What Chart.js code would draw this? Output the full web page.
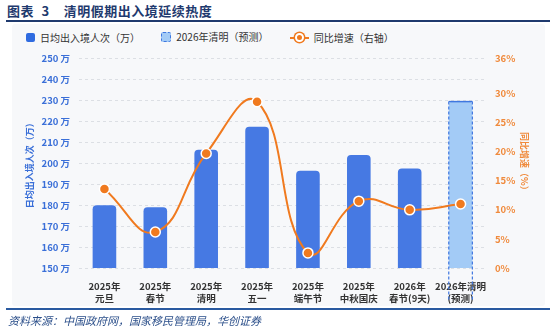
<!DOCTYPE html>
<html>
<head>
<meta charset="utf-8">
<script src="https://cdn.jsdelivr.net/npm/chart.js@4"></script>
<style>
  html, body { margin: 0; padding: 0; background: #fff; }
  body { width: 550px; height: 336px; position: relative; overflow: hidden; font-family: "Noto Sans CJK SC", "Noto Sans", sans-serif; }
  #title { position: absolute; left: 7px; top: 1px; font-size: 13px; font-weight: bold; color: #1f3a6e; letter-spacing: 0.5px; white-space: nowrap; }
  #title .num { margin-left: 4px; margin-right: 14px; }
  #rule { position: absolute; left: 6px; right: 0; top: 20px; height: 1.5px; background: #1f3a6e; }
  #panel { position: absolute; left: 12px; right: 5px; top: 24px; height: 282px; background: #f7f8fa; border-radius: 3px; }
  #legend { position: absolute; left: 26px; top: 29px; font-size: 10px; color: #333; white-space: nowrap; }
  #legend span.item { display: inline-flex; align-items: center; margin-right: 19px; }
  .sq { width: 9px; height: 9px; border-radius: 2px; margin-right: 5px; display: inline-block; }
  .sq1 { background: #2f6be0; }
  .sq2 { background: #a3cbf6; border: 1px dashed #3f77e0; width: 8px; height: 8px; }
  .ln { position: relative; width: 19px; height: 9px; margin-right: 5px; display: inline-block; }
  .ln:before { content: ""; position: absolute; left: 0; right: 0; top: 4px; height: 2px; background: #f07a1f; }
  .ln:after { content: ""; position: absolute; left: 5px; top: 0; width: 5px; height: 5px; border-radius: 50%; background: #f07a1f; border: 2px solid #fff; box-shadow: 0 0 0 1.5px #f07a1f; }
  #wrap { position: absolute; left: 0; top: 44px; width: 550px; height: 266px; }
  #bottomRule { position: absolute; left: 6px; right: 0; top: 308px; height: 2px; background: #2a5aa0; }
  #source { position: absolute; left: 8px; top: 312px; font-size: 11px; font-style: italic; color: #2b4f8a; white-space: nowrap; }
</style>
</head>
<body>
<div id="title">图表<span class="num"> 3</span>清明假期出入境延续热度</div>
<div id="rule"></div>
<div id="panel"></div>
<div id="legend">
  <span class="item"><i class="sq sq1"></i>日均出入境人次（万）</span>
  <span class="item"><i class="sq sq2"></i>2026年清明（预测）</span>
  <span class="item"><i class="ln"></i>同比增速（右轴）</span>
</div>
<div id="wrap"><canvas id="chart"></canvas></div>
<div id="bottomRule"></div>
<div id="source">资料来源：中国政府网，国家移民管理局，华创证券</div>
<script>
const categories = [
  ['2025年', '元旦'], ['2025年', '春节'], ['2025年', '清明'], ['2025年', '五一'],
  ['2025年', '端午节'], ['2025年', '中秋国庆'], ['2026年', '春节(9天)'], ['2026年清明', '(预测)']
];
const dailyTravellers = [180, 179, 206.5, 217.5, 196.5, 204, 197.5, 229.5];
const growthRate = [13.6, 6.2, 19.7, 28.6, 2.6, 11.5, 10.0, 11.0];
const leftTicks = [150, 160, 170, 180, 190, 200, 210, 220, 230, 240, 250];
const rightTicks = [0, 5, 10, 15, 20, 25, 30, 36];

const blue = '#4679e3';
const lightBlue = '#a3cbf6';
const orange = '#f07a1f';
const forecastIndex = dailyTravellers.length - 1;

// dashed outline for the forecast bar, running down through its label
const forecastOutline = {
  id: 'forecastOutline',
  afterDatasetsDraw(chart) {
    const bar = chart.getDatasetMeta(1).data[forecastIndex];
    if (!bar) return;
    const ctx = chart.ctx;
    const half = bar.width / 2;
    const x1 = bar.x - half, x2 = bar.x + half;
    ctx.save();
    ctx.strokeStyle = '#3f77e0';
    ctx.lineWidth = 1.5;
    ctx.beginPath();
    ctx.moveTo(x1, bar.y);
    ctx.lineTo(x2, bar.y);
    ctx.stroke();
    ctx.lineWidth = 1.2;
    ctx.setLineDash([3, 2]);
    ctx.beginPath();
    ctx.moveTo(x1, bar.y);
    ctx.lineTo(x1, chart.chartArea.bottom + 33);
    ctx.moveTo(x2, bar.y);
    ctx.lineTo(x2, chart.chartArea.bottom + 33);
    ctx.stroke();
    ctx.restore();
  }
};

new Chart(document.getElementById('chart'), {
  data: {
    labels: categories,
    datasets: [
      {
        type: 'line',
        label: '同比增速（右轴）',
        data: growthRate,
        yAxisID: 'y1',
        borderColor: orange,
        borderWidth: 2,
        tension: 0.45,
        pointRadius: 5,
        pointBackgroundColor: orange,
        pointBorderColor: '#fff',
        pointBorderWidth: 1.5,
        order: 0
      },
      {
        type: 'bar',
        label: '日均出入境人次（万）',
        data: dailyTravellers,
        yAxisID: 'y',
        backgroundColor: dailyTravellers.map((v, i) => i === forecastIndex ? lightBlue : blue),
        borderRadius: { topLeft: 4, topRight: 4 },
        borderSkipped: 'bottom',
        categoryPercentage: 0.8,
        barPercentage: 0.58,
        order: 1
      }
    ]
  },
  options: {
    responsive: true,
    maintainAspectRatio: false,
    animation: false,
    layout: { padding: { left: 20, right: 16, top: 8, bottom: 0 } },
    plugins: { legend: { display: false }, tooltip: { enabled: false } },
    scales: {
      x: {
        grid: { display: false },
        border: { display: false },
        ticks: {
          color: '#333',
          font: { family: 'Noto Sans CJK SC', size: 9.5, weight: 'bold' },
          padding: 5,
          maxRotation: 0,
          autoSkip: false
        },
        afterFit(scale) { scale.height = 42; }
      },
      y: {
        position: 'left',
        min: 150,
        max: 250,
        afterBuildTicks(scale) { scale.ticks = leftTicks.map(v => ({ value: v })); },
        grid: { color: '#dcdfe4', drawTicks: false, lineWidth: 1 },
        border: { display: false, dash: [3, 3] },
        ticks: {
          color: '#3a6fd8',
          font: { family: 'Noto Sans CJK SC', size: 9.5, weight: 'bold' },
          padding: 9,
          callback: v => v + ' 万'
        },
        title: {
          display: true,
          text: '日均出入境人次（万）',
          color: '#3a6fd8',
          font: { family: 'Noto Sans CJK SC', size: 9, weight: 'bold' },
          padding: { top: 4, bottom: 0 }
        },
        afterFit(scale) { scale.width = 59; }
      },
      y1: {
        position: 'right',
        min: 0,
        max: 36,
        afterBuildTicks(scale) { scale.ticks = rightTicks.map(v => ({ value: v })); },
        grid: { display: false, drawTicks: false },
        border: { display: false },
        ticks: {
          color: '#f08a3c',
          font: { family: 'Noto Sans CJK SC', size: 9.5, weight: 'bold' },
          padding: 9,
          callback: v => v + '%'
        },
        title: {
          display: true,
          text: '同比增速（%）',
          color: '#f08a3c',
          font: { family: 'Noto Sans CJK SC', size: 9, weight: 'bold' },
          padding: { top: 4, bottom: 0 }
        },
        afterFit(scale) { scale.width = 48; }
      }
    }
  },
  plugins: [forecastOutline]
});
</script>
</body>
</html>
